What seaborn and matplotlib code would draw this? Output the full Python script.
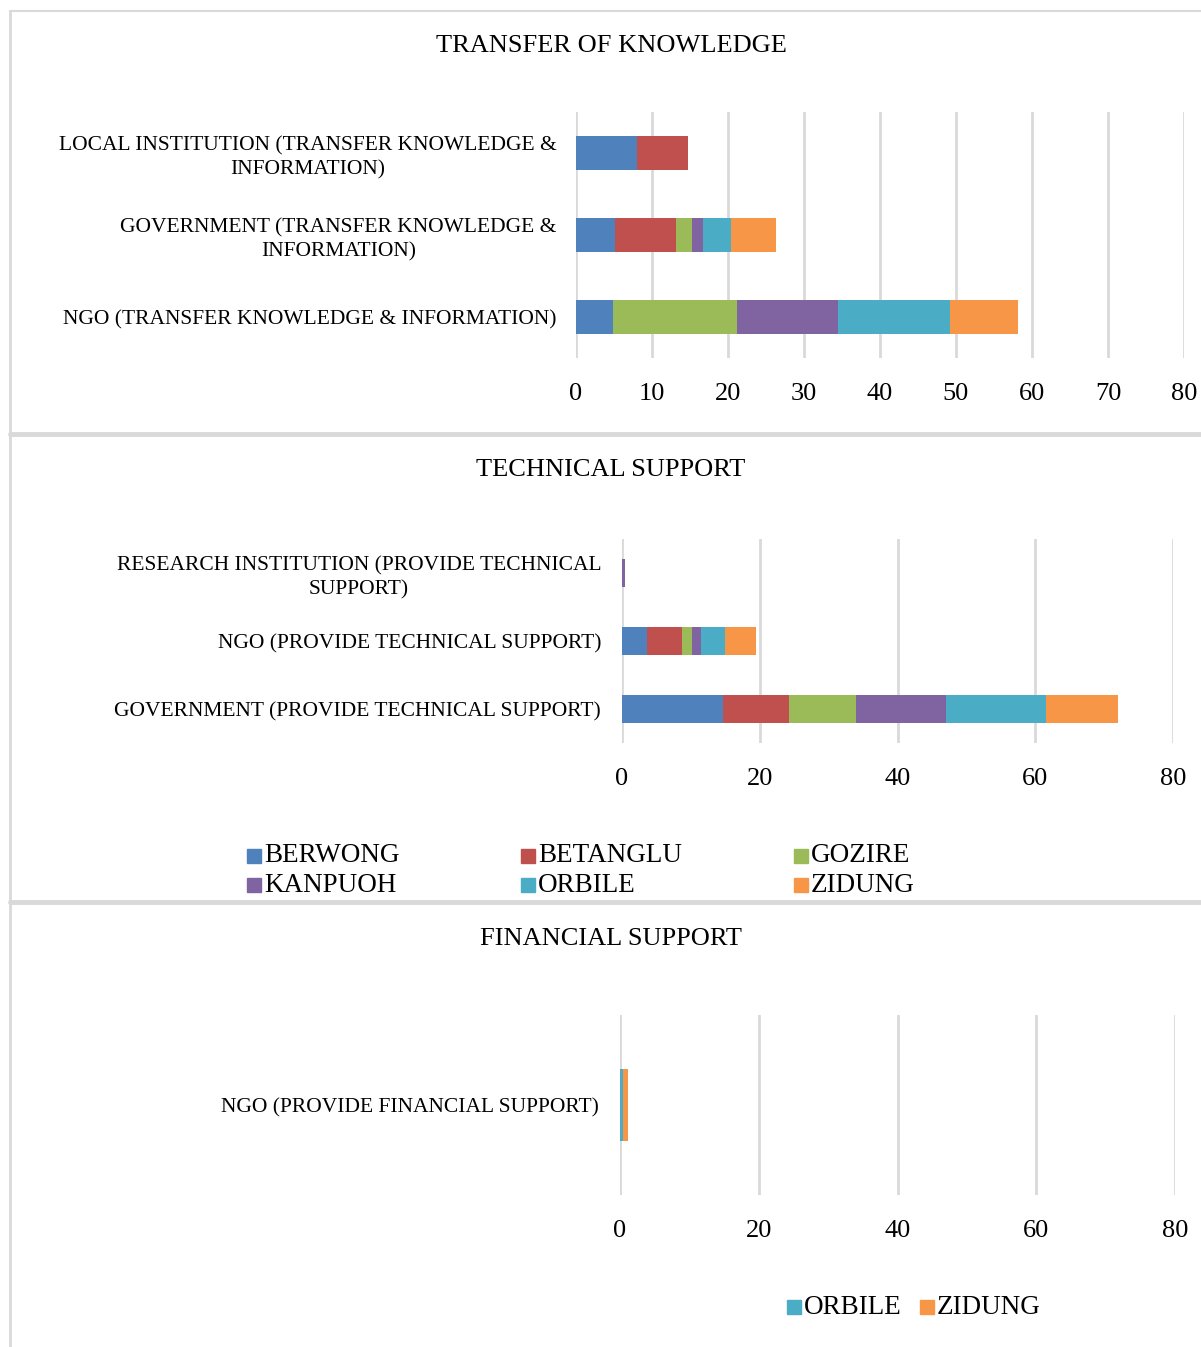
import numpy as np
import pandas as pd
import matplotlib
matplotlib.use("Agg")
import matplotlib.pyplot as plt
from matplotlib.patches import Rectangle
from matplotlib.lines import Line2D
import seaborn as sns

# series names and Excel-like colours
series = ['BERWONG', 'BETANGLU', 'GOZIRE', 'KANPUOH', 'ORBILE', 'ZIDUNG']
colors = ['#4F81BD', '#C0504D', '#9BBB59', '#8064A2', '#4BACC6', '#F79646']

# transfer of knowledge
knowledge_cats = ['LOCAL INSTITUTION (TRANSFER KNOWLEDGE &\nINFORMATION)',
                  'GOVERNMENT (TRANSFER KNOWLEDGE &\nINFORMATION)',
                  'NGO (TRANSFER KNOWLEDGE & INFORMATION)']
berwong_k = [8.0, 5.1, 4.9]
betanglu_k = [6.7, 8.1, 0.0]
gozire_k = [0.0, 2.1, 16.3]
kanpuoh_k = [0.0, 1.4, 13.3]
orbile_k = [0.0, 3.7, 14.7]
zidung_k = [0.0, 5.9, 9.0]

# technical support
technical_cats = ['RESEARCH INSTITUTION (PROVIDE TECHNICAL\nSUPPORT)',
                  'NGO (PROVIDE TECHNICAL SUPPORT)',
                  'GOVERNMENT (PROVIDE TECHNICAL SUPPORT)']
berwong_t = [0.0, 3.7, 14.7]
betanglu_t = [0.0, 5.0, 9.6]
gozire_t = [0.0, 1.5, 9.7]
kanpuoh_t = [0.5, 1.2, 13.0]
orbile_t = [0.0, 3.6, 14.6]
zidung_t = [0.0, 4.5, 10.4]

# financial support
financial_cats = ['NGO (PROVIDE FINANCIAL SUPPORT)']
orbile_f = [0.4]
zidung_f = [0.8]

sns.set_style('white')
plt.rcParams['font.family'] = ['Liberation Serif', 'DejaVu Serif']
plt.rcParams['text.color'] = 'black'
plt.rcParams['xtick.color'] = 'black'
plt.rcParams['ytick.color'] = 'black'

W, H = 1201, 1347
fig = plt.figure(figsize=(W / 100, H / 100), dpi=100)
grid_c = '#d9d9d9'


def fx(px):
    return px / W


def fy(py):
    return 1 - py / H


def stacked(ax, cats, values, names, cols, bar_h, xticks, pad):
    df = pd.DataFrame(values, index=names, columns=cats).T
    cum = df.cumsum(axis=1)
    # draw cumulative totals from last to first so each segment shows
    for name, col in reversed(list(zip(names, cols))):
        sns.barplot(x=cum[name].values, y=list(cats), orient='h', color=col,
                    width=bar_h, linewidth=0, saturation=1, ax=ax, zorder=3)
    ax.set_xlim(xticks[0], xticks[-1])
    ax.set_ylim(len(cats) - 0.5, -0.5)
    ax.set_xticks(xticks)
    ax.grid(axis='x', color=grid_c, linewidth=2, zorder=0)
    ax.set_axisbelow(True)
    for s in ax.spines.values():
        s.set_visible(False)
    ax.tick_params(axis='x', length=0, labelsize=19, pad=18)
    ax.tick_params(axis='y', length=0, labelsize=15.5, pad=pad)
    for t in ax.get_yticklabels():
        t.set_multialignment('center')
        t.set_linespacing(1.3)
    ax.set_xlabel('')
    ax.set_ylabel('')


# panel 1
ax1 = fig.add_axes([fx(576), fy(358), fx(1184 - 576), (358 - 112) / H])
stacked(ax1, knowledge_cats,
        [berwong_k, betanglu_k, gozire_k, kanpuoh_k, orbile_k, zidung_k],
        series, colors, 0.42, [0, 10, 20, 30, 40, 50, 60, 70, 80], 14)

# panel 2
ax2 = fig.add_axes([fx(622), fy(743), fx(1173 - 622), (743 - 539) / H])
stacked(ax2, technical_cats,
        [berwong_t, betanglu_t, gozire_t, kanpuoh_t, orbile_t, zidung_t],
        series, colors, 0.41, [0, 20, 40, 60, 80], 15)

# panel 3
ax3 = fig.add_axes([fx(620), fy(1195), fx(1175 - 620), (1195 - 1015) / H])
stacked(ax3, financial_cats, [orbile_f, zidung_f],
        ['ORBILE', 'ZIDUNG'], colors[4:], 0.4, [0, 20, 40, 60, 80], 15)

# titles
for txt, y in [('TRANSFER OF KNOWLEDGE', 46), ('TECHNICAL SUPPORT', 470),
               ('FINANCIAL SUPPORT', 939)]:
    fig.text(fx(611), fy(y), txt, ha='center', va='center', fontsize=19)

# legends
def legend_item(x, y, name, col):
    s = 14
    fig.patches.append(Rectangle((fx(x - s / 2), fy(y + s / 2)), s / W, s / H,
                                 transform=fig.transFigure, color=col))
    fig.text(fx(x + 10), fy(y), name, ha='left', va='center', fontsize=19.5)


for i, (name, col) in enumerate(zip(series, colors)):
    legend_item([254, 528, 801][i % 3], [856, 885][i // 3], name, col)
legend_item(794, 1307, 'ORBILE', colors[4])
legend_item(927, 1307, 'ZIDUNG', colors[5])

# panel frames
fig.add_artist(Line2D([fx(10), 1], [fy(11), fy(11)], color=grid_c, lw=1.5))
fig.add_artist(Line2D([fx(10), fx(10)], [fy(11), 0], color=grid_c, lw=2))
for y in [434, 902]:
    fig.add_artist(Line2D([fx(10), 1], [fy(y), fy(y)], color=grid_c, lw=3.5))

fig.savefig('out.png', dpi=100)
